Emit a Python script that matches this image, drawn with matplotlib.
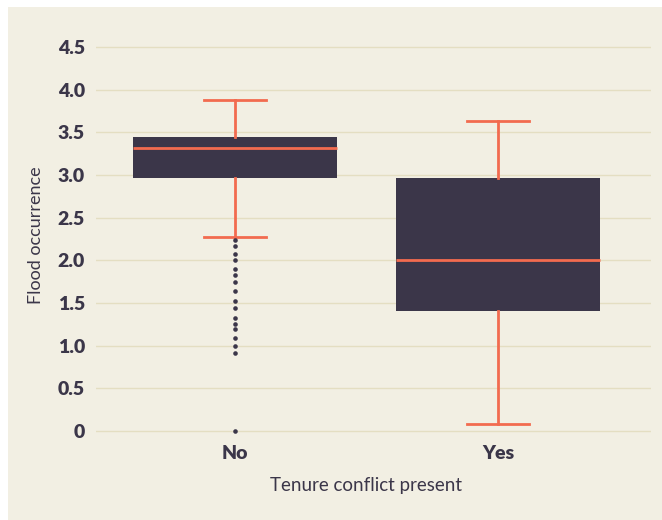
# boxplot: ocorrencia de inundacoes vs conflito de posse
import matplotlib
matplotlib.use("Agg")
import matplotlib.pyplot as plt

categorias = ["No", "Yes"]

# estatisticas
medianas = [3.32, 2.0]
q1 = [2.97, 1.41]
q3 = [3.45, 2.97]
bigode_inf = [2.27, 0.08]
bigode_sup = [3.88, 3.63]
outliers_no = [2.24, 2.165, 2.07, 2.0, 1.90, 1.825, 1.75, 1.64, 1.52,
               1.445, 1.33, 1.26, 1.20, 1.09, 1.0, 0.92, 0.0]
outliers_yes = []

yticks = [0, 0.5, 1.0, 1.5, 2.0, 2.5, 3.0, 3.5, 4.0, 4.5]
ytick_labels = ["0", "0.5", "1.0", "1.5", "2.0", "2.5", "3.0", "3.5", "4.0", "4.5"]

fundo = "#F2EFE3"
escuro = "#3B3649"
laranja = "#F26B4F"
grade = "#E4DEC2"

plt.rcParams["font.family"] = ["Lato", "DejaVu Sans"]

fig = plt.figure(figsize=(6.62, 5.2), dpi=100, facecolor="white")
# painel creme (margem branca a esquerda e em cima)
bg = fig.add_axes([8 / 662, 0, 1 - 8 / 662, 1 - 7 / 520], zorder=-1)
bg.set_facecolor(fundo)
bg.set_xticks([])
bg.set_yticks([])
for s in bg.spines.values():
    s.set_visible(False)

ax = fig.add_axes([0.145, 0.1465, 0.838, 0.8041], zorder=1)
ax.set_facecolor("none")

stats = []
for i in range(len(categorias)):
    stats.append({
        "med": medianas[i], "q1": q1[i], "q3": q3[i],
        "whislo": bigode_inf[i], "whishi": bigode_sup[i],
        "fliers": [outliers_no, outliers_yes][i], "label": categorias[i],
    })

ax.bxp(stats, positions=[0, 1], widths=0.776, capwidths=0.235, patch_artist=True,
       boxprops=dict(facecolor=escuro, edgecolor=escuro, linewidth=0),
       medianprops=dict(color=laranja, linewidth=2),
       whiskerprops=dict(color=laranja, linewidth=2),
       capprops=dict(color=laranja, linewidth=2),
       flierprops=dict(marker="o", markersize=3.3, markeredgewidth=0,
                       markerfacecolor=escuro))

ax.set_xlim(-0.53, 1.58)
ax.set_ylim(-0.15, 4.75)
ax.set_yticks(yticks)
ax.set_yticklabels(ytick_labels)
ax.yaxis.grid(True, color=grade, linewidth=1)
ax.set_axisbelow(True)
for s in ax.spines.values():
    s.set_visible(False)
ax.tick_params(length=0, labelsize=14, labelcolor=escuro)
ax.tick_params(axis="y", pad=8)
ax.tick_params(axis="x", pad=1)
for t in ax.get_xticklabels() + ax.get_yticklabels():
    t.set_fontweight("heavy")

ax.set_xlabel("Tenure conflict present", fontsize=13.5, color=escuro)
ax.xaxis.set_label_coords(0.487, -0.08)
ax.set_ylabel("Flood occurrence", fontsize=13, color=escuro, labelpad=10)

plt.savefig("out.png", dpi=100, facecolor="white")
